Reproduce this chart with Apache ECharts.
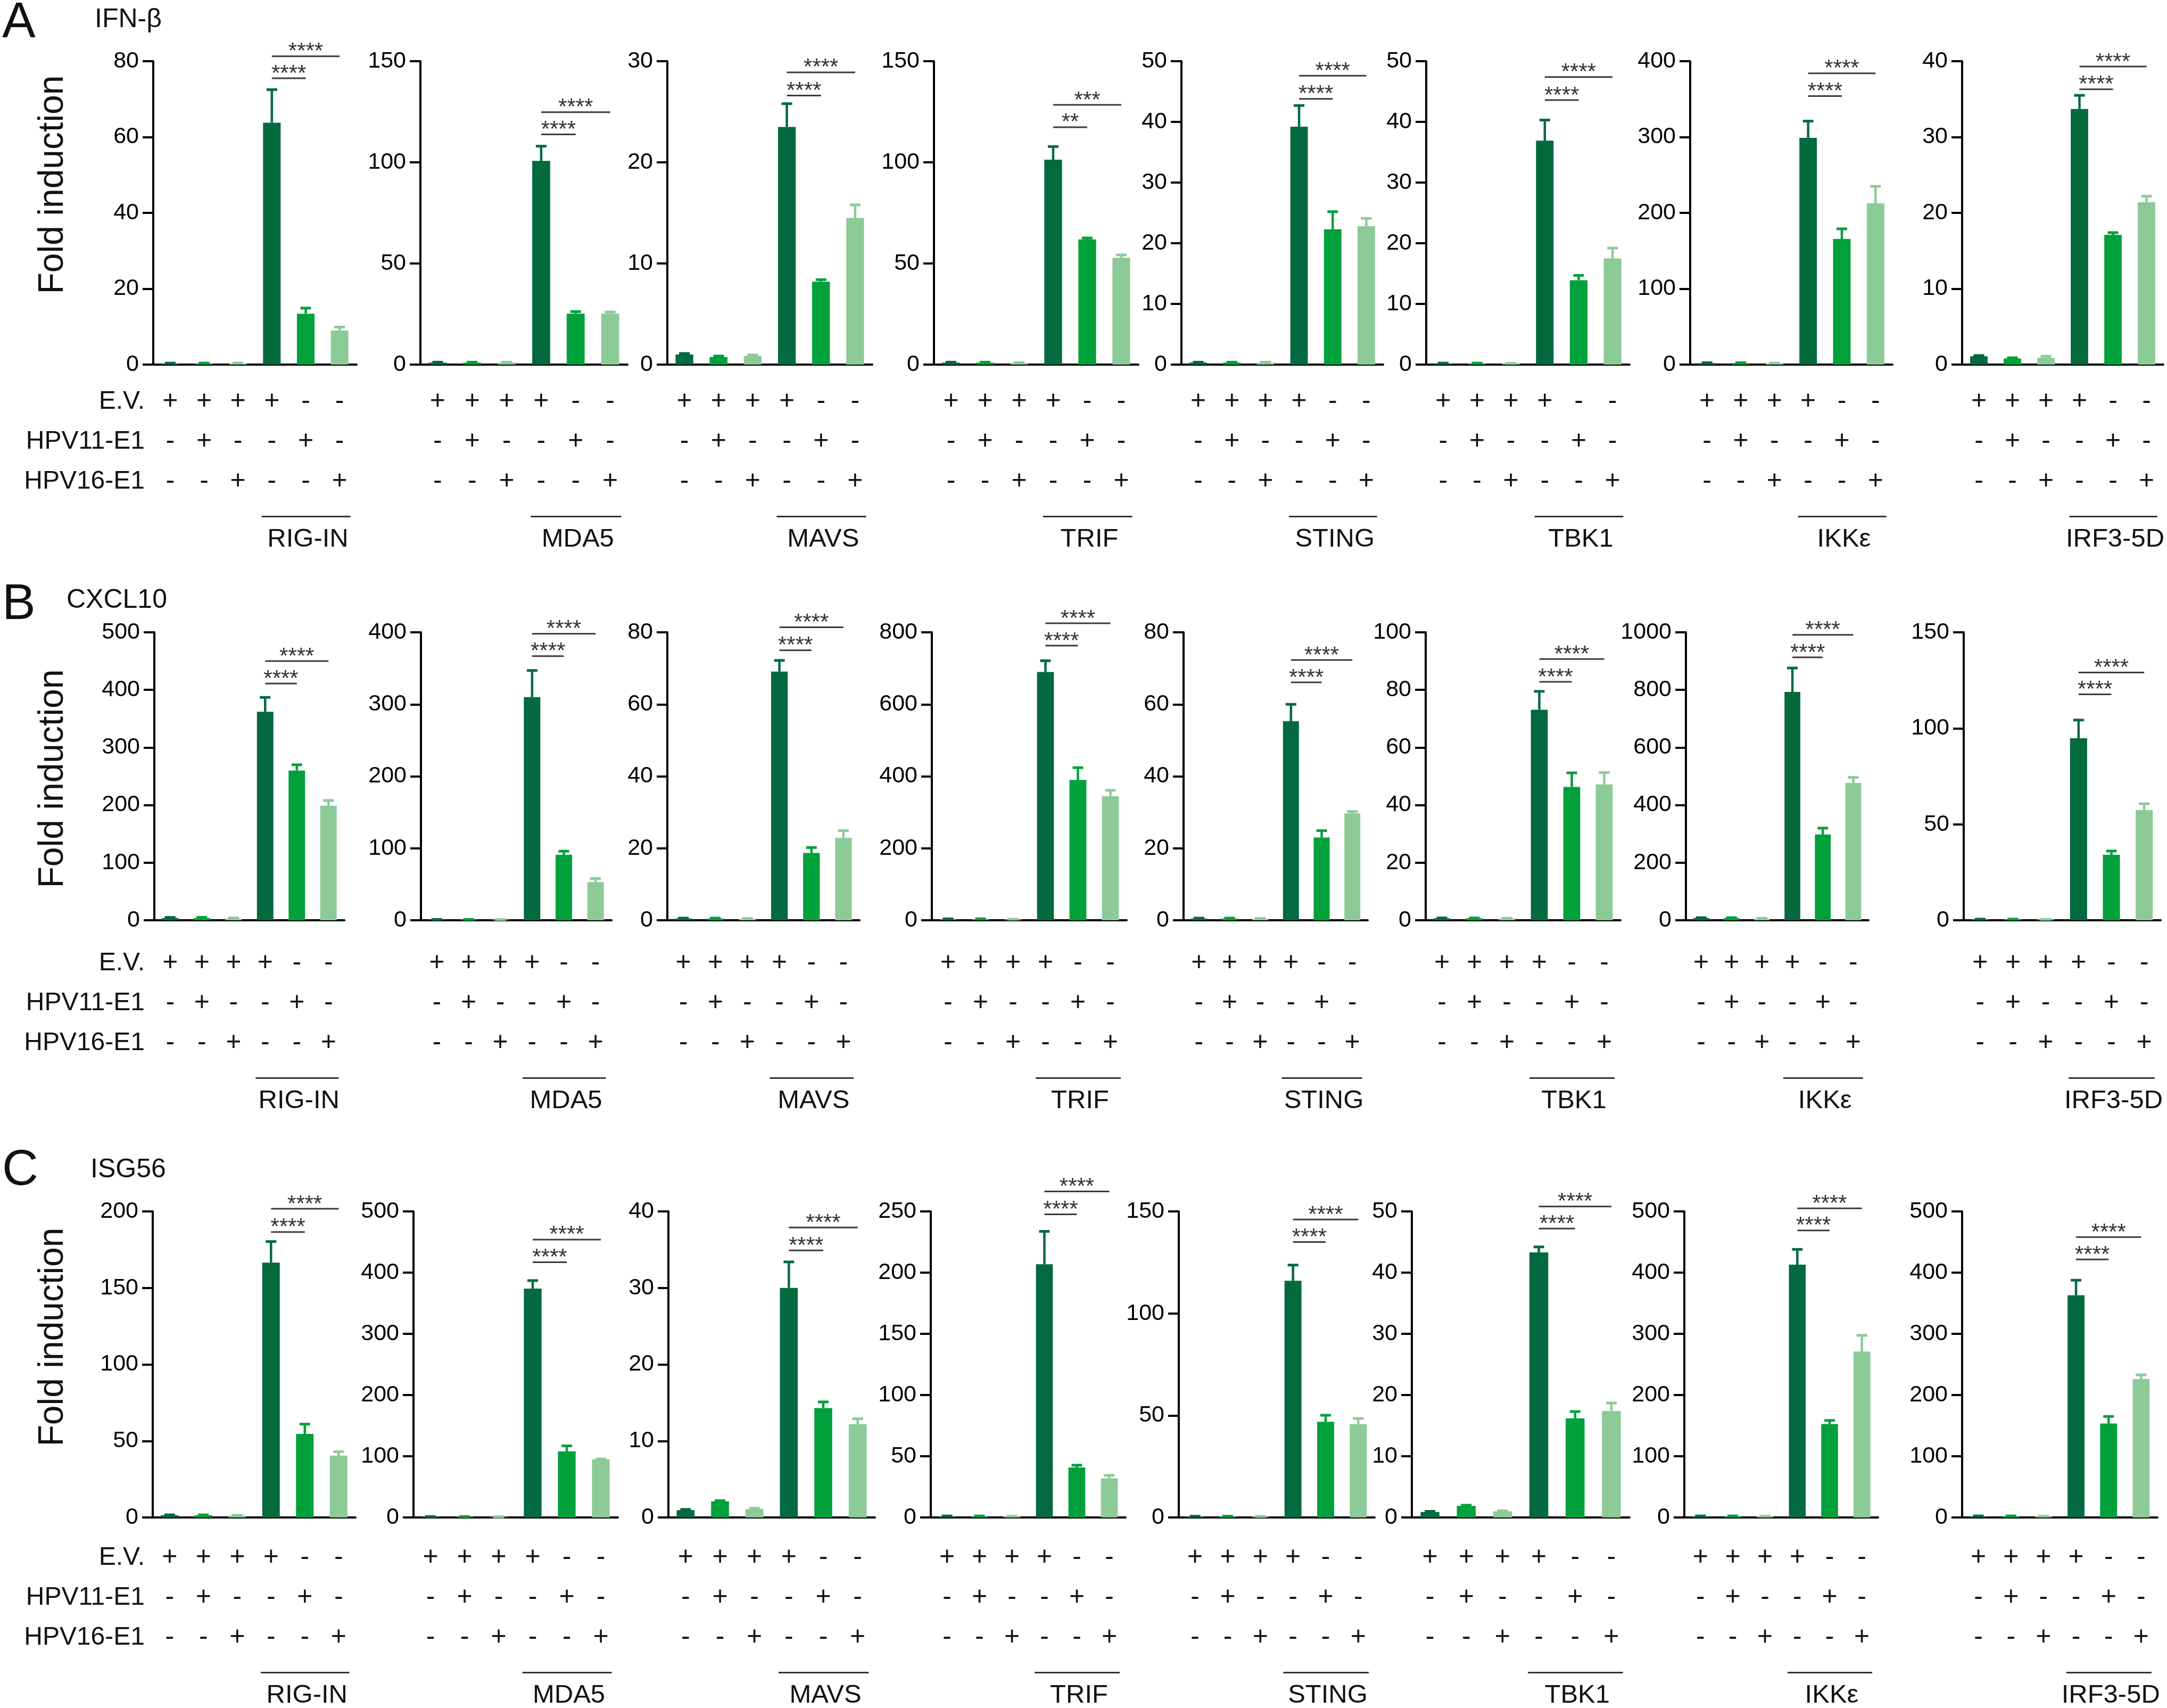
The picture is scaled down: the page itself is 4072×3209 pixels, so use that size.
<!DOCTYPE html>
<html>
<head>
<meta charset="utf-8">
<script src="https://cdn.jsdelivr.net/npm/echarts@6/dist/echarts.min.js"></script>
<style>
  html, body { margin: 0; padding: 0; background: #fff; }
  #main { width: 4072px; height: 3209px; }
</style>
</head>
<body>
<div id="main"></div>
<script>
// --- data ---
var panelTags = ['A', 'B', 'C']
var genes = ['IFN-β', 'CXCL10', 'ISG56']
var proteins = ['RIG-IN', 'MDA5', 'MAVS', 'TRIF', 'STING', 'TBK1', 'IKKε', 'IRF3-5D']
var rowNames = ['E.V.', 'HPV11-E1', 'HPV16-E1']
var evRow = ['+', '+', '+', '+', '-', '-']
var hpv11Row = ['-', '+', '-', '-', '+', '-']
var hpv16Row = ['-', '-', '+', '-', '-', '+']

// y axis max / step, per gene row, per protein
var yMax = [
  [80, 150, 30, 150, 50, 50, 400, 40],
  [500, 400, 80, 800, 80, 100, 1000, 150],
  [200, 500, 40, 250, 150, 50, 500, 500]
]
var yStep = [
  [20, 50, 10, 50, 10, 10, 100, 10],
  [100, 100, 20, 200, 20, 20, 200, 50],
  [50, 100, 10, 50, 50, 10, 100, 100]
]

// bar means
var meansA = [
  [0.3, 0.3, 0.3, 63.8, 13.4, 9.0],
  [1, 1, 1, 100.7, 25.2, 25.2],
  [1.0, 0.75, 0.85, 23.5, 8.2, 14.5],
  [1, 1, 0.8, 101.3, 61.9, 52.8],
  [0.35, 0.35, 0.3, 39.2, 22.3, 22.8],
  [0.2, 0.2, 0.15, 36.9, 13.9, 17.5],
  [2, 2, 1.5, 299, 165.6, 212.6],
  [1.1, 0.8, 0.9, 33.7, 17.1, 21.4]
]
var meansB = [
  [4, 4, 3, 362, 260, 199],
  [1, 1, 0.8, 310, 91, 53],
  [0.5, 0.5, 0.4, 69.1, 18.7, 22.9],
  [3, 3, 2, 690, 390, 345],
  [0.5, 0.5, 0.4, 55.3, 23.0, 29.7],
  [0.7, 0.7, 0.6, 73.1, 46.3, 47.2],
  [8, 8, 6, 793, 298, 477],
  [0.5, 0.5, 0.4, 94.8, 34.1, 57.4]
]
var meansC = [
  [1.5, 1.5, 1.2, 166.5, 54.6, 40.4],
  [1.2, 1.2, 0.8, 374, 108, 95],
  [0.95, 2.1, 1.1, 30.0, 14.3, 12.2],
  [1, 1, 0.8, 206.8, 40.9, 32],
  [0.5, 0.5, 0.4, 116, 46.9, 45.7],
  [0.9, 1.9, 1.0, 43.3, 16.2, 17.4],
  [2, 2, 1.5, 413, 152.6, 271],
  [2, 2, 1.5, 363, 153.4, 226]
]
// top of error bars (mean + error)
var upperA = [
  [0.4, 0.4, 0.4, 72.5, 14.9, 9.9],
  [1.2, 1.2, 1.2, 108, 26.2, 26],
  [1.1, 0.85, 0.95, 25.8, 8.4, 15.8],
  [1.2, 1.2, 1, 107.8, 62.6, 54.2],
  [0.4, 0.4, 0.4, 42.7, 25.2, 24.1],
  [0.25, 0.25, 0.2, 40.3, 14.7, 19.2],
  [2.5, 2.5, 2, 321, 179, 235],
  [1.2, 0.9, 1.1, 35.5, 17.4, 22.2]
]
var upperB = [
  [5, 5, 4, 387, 270, 208],
  [1.2, 1.2, 1, 347, 96, 58],
  [0.6, 0.6, 0.5, 72.2, 20.2, 24.9],
  [4, 4, 3, 721, 424, 361],
  [0.6, 0.6, 0.5, 60, 24.9, 30.2],
  [0.8, 0.8, 0.7, 79.5, 51.2, 51.3],
  [9, 9, 7, 876, 320, 496],
  [0.6, 0.6, 0.5, 104.3, 36.1, 60.7]
]
var upperC = [
  [1.7, 1.7, 1.4, 180.3, 61, 43],
  [1.4, 1.4, 1, 387, 117, 95.4],
  [1.05, 2.2, 1.2, 33.4, 15.1, 12.9],
  [1.2, 1.2, 1, 233.7, 42.7, 34.4],
  [0.6, 0.6, 0.5, 123.7, 50.1, 48.5],
  [1.0, 2.0, 1.1, 44.2, 17.3, 18.7],
  [2.5, 2.5, 2, 438, 158.5, 297.5],
  [2.5, 2.5, 2, 387.6, 165, 233]
]
// significance brackets: height (axis units) of [E.V. vs HPV11, E.V. vs HPV16]
var sigHeightA = [[75.5, 81.3], [113.8, 124.8], [26.6, 28.9], [117.4, 128.4], [43.8, 47.6], [43.6, 47.4], [354, 384], [36.3, 39.3]]
var sigHeightB = [[411, 450], [367, 398], [75, 81.4], [763, 825], [66.1, 72.3], [82.8, 90.7], [913, 991], [117.7, 129.1]]
var sigHeightC = [[186.5, 201.7], [417, 454], [34.9, 37.9], [247.6, 266.3], [135, 146], [47.2, 50.8], [469, 505], [421.5, 458]]
var sigLabelA = [['****', '****'], ['****', '****'], ['****', '****'], ['**', '***'], ['****', '****'], ['****', '****'], ['****', '****'], ['****', '****']]
var sigLabelB = [['****', '****'], ['****', '****'], ['****', '****'], ['****', '****'], ['****', '****'], ['****', '****'], ['****', '****'], ['****', '****']]
var sigLabelC = [['****', '****'], ['****', '****'], ['****', '****'], ['****', '****'], ['****', '****'], ['****', '****'], ['****', '****'], ['****', '****']]

var means = [meansA, meansB, meansC]
var uppers = [upperA, upperB, upperC]
var sigHeights = [sigHeightA, sigHeightB, sigHeightC]
var sigLabels = [sigLabelA, sigLabelB, sigLabelC]

// --- layout ---
var barColors = ['#036a40', '#00a03a', '#8cca98']
var SANS = "'Liberation Sans', Arial, Helvetica, sans-serif"
var rowTop = [115, 1188, 2276]
var rowBottom = [685, 1729, 2851]
var labelMargin = [32, 43, 38]
var colLeft = [
  [288, 790, 1254, 1755, 2220, 2680, 3176, 3687],
  [290, 791, 1254, 1751, 2224, 2679, 3168, 3690],
  [287, 777, 1256, 1749, 2215, 2653, 3165, 3687]
]
var colRight = [
  [670, 1179, 1639, 2139, 2599, 3062, 3556, 4065],
  [647, 1149, 1615, 2117, 2570, 3045, 3511, 4060],
  [668, 1161, 1644, 2115, 2583, 3062, 3529, 4054]
]
var tagY = [44, 1137, 2200]
var geneX = [178, 125, 170]
var geneY = [37, 1128, 2198]
var foldY = [347, 1463, 2512]
var LINE_H = 75

var chart = echarts.init(document.getElementById('main'), null, { renderer: 'canvas' })

function errRender(params, api) {
  var x = api.value(0)
  var lo = api.value(1)
  var hi = api.value(2)
  if (!(hi > lo)) return null
  var p0 = api.coord([x, lo])
  var p1 = api.coord([x, hi])
  var c = barColors[x % 3]
  return {
    type: 'group',
    children: [
      { type: 'line', shape: { x1: p0[0], y1: p0[1], x2: p1[0], y2: p1[1] }, style: { stroke: c, lineWidth: 4.5 } },
      { type: 'line', shape: { x1: p1[0] - 10, y1: p1[1], x2: p1[0] + 10, y2: p1[1] }, style: { stroke: c, lineWidth: 5 } }
    ]
  }
}

function makeSigRender(labels) {
  return function (params, api) {
    var a = api.coord([api.value(0), api.value(2)])
    var b = api.coord([api.value(1), api.value(2)])
    return {
      type: 'group',
      children: [
        { type: 'line', shape: { x1: a[0], y1: a[1], x2: b[0], y2: a[1] }, style: { stroke: '#3a3a3a', lineWidth: 3 } },
        {
          type: 'text',
          style: {
            text: labels[params.dataIndex], x: (a[0] + b[0]) / 2, y: a[1] - 8,
            textAlign: 'center', textVerticalAlign: 'middle',
            font: 'normal 42px ' + SANS, fill: '#333'
          }
        }
      ]
    }
  }
}

var grids = [], xAxes = [], yAxes = [], series = []
for (var r = 0; r < 3; r++) {
  for (var c = 0; c < 8; c++) {
    var idx = r * 8 + c
    grids.push({
      left: colLeft[r][c], top: rowTop[r],
      width: colRight[r][c] - colLeft[r][c], height: rowBottom[r] - rowTop[r]
    })
    xAxes.push({
      type: 'category', gridIndex: idx,
      data: ['0', '1', '2', '3', '4', '5'],
      axisLine: { lineStyle: { color: '#000', width: 4 } },
      axisTick: { show: false },
      axisLabel: {
        interval: 0, margin: labelMargin[r], color: '#111',
        fontFamily: SANS, fontSize: 50, lineHeight: LINE_H,
        formatter: function (v, i) { return evRow[i] + '\n' + hpv11Row[i] + '\n' + hpv16Row[i] }
      }
    })
    yAxes.push({
      type: 'value', gridIndex: idx, min: 0, max: yMax[r][c], interval: yStep[r][c],
      axisLine: { show: true, lineStyle: { color: '#000', width: 4 } },
      axisTick: { show: true, length: 20, lineStyle: { color: '#000', width: 4 } },
      axisLabel: {
        color: '#000', fontFamily: SANS, fontSize: 43, margin: 27,
        formatter: function (v) { return String(v) }
      },
      splitLine: { show: false }
    })
    series.push({
      type: 'bar', xAxisIndex: idx, yAxisIndex: idx, barWidth: '52%',
      data: means[r][c].map(function (v, i) { return { value: v, itemStyle: { color: barColors[i % 3] } } }),
      silent: true
    })
    series.push({
      type: 'custom', xAxisIndex: idx, yAxisIndex: idx, renderItem: errRender, clip: false,
      encode: { x: 0, y: [1, 2] },
      data: means[r][c].map(function (v, i) { return [i, v, uppers[r][c][i]] }),
      z: 3, silent: true
    })
    series.push({
      type: 'custom', xAxisIndex: idx, yAxisIndex: idx,
      renderItem: makeSigRender(sigLabels[r][c]), clip: false,
      encode: { x: [0, 1], y: 2 },
      data: [[3, 4, sigHeights[r][c][0]], [3, 5, sigHeights[r][c][1]]],
      z: 4, silent: true
    })
  }
}

chart.setOption({
  animation: false,
  backgroundColor: '#fff',
  grid: grids,
  xAxis: xAxes,
  yAxis: yAxes,
  series: series
})

// annotations: panel tags, gene names, y titles, table row names, protein brackets
var graphics = []
for (var r = 0; r < 3; r++) {
  graphics.push({
    type: 'text', x: 4, y: tagY[r],
    style: { text: panelTags[r], font: 'normal 94px ' + SANS, fill: '#111', textVerticalAlign: 'middle' }
  })
  graphics.push({
    type: 'text', x: geneX[r], y: geneY[r],
    style: { text: genes[r], font: 'normal 50px ' + SANS, fill: '#111', textVerticalAlign: 'middle' }
  })
  graphics.push({
    type: 'text', x: 100, y: foldY[r], rotation: Math.PI / 2,
    style: { text: 'Fold induction', font: 'normal 66px ' + SANS, fill: '#111', textAlign: 'center', textVerticalAlign: 'middle' }
  })
  for (var k = 0; k < 3; k++) {
    graphics.push({
      type: 'text', x: 272, y: rowBottom[r] + labelMargin[r] + LINE_H / 2 + k * LINE_H,
      style: { text: rowNames[k], font: 'normal 48px ' + SANS, fill: '#111', textAlign: 'right', textVerticalAlign: 'middle' }
    })
  }
  for (var c = 0; c < 8; c++) {
    var idx = r * 8 + c
    var p3 = chart.convertToPixel({ gridIndex: idx }, [3, 0])
    var p5 = chart.convertToPixel({ gridIndex: idx }, [5, 0])
    var band = (p5[0] - p3[0]) / 2
    var yLine = rowBottom[r] + labelMargin[r] + LINE_H / 2 + 2 * LINE_H + 66
    graphics.push({
      type: 'line',
      shape: { x1: p3[0] - 0.3 * band, y1: yLine, x2: p5[0] + 0.32 * band, y2: yLine },
      style: { stroke: '#333', lineWidth: 3 }
    })
    graphics.push({
      type: 'text', x: (p3[0] + p5[0]) / 2 + 4, y: yLine + 43,
      style: { text: proteins[c], font: 'normal 49px ' + SANS, fill: '#111', textAlign: 'center', textVerticalAlign: 'middle' }
    })
  }
}
chart.setOption({ graphic: graphics })
</script>
</body>
</html>
